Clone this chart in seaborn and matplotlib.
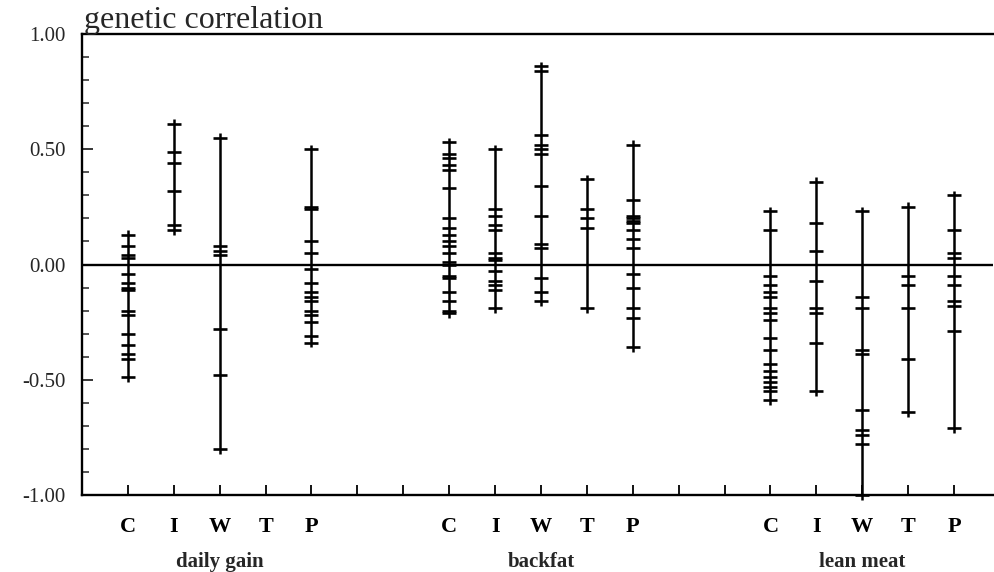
import numpy as np
import pandas as pd
import matplotlib
matplotlib.use("Agg")
import matplotlib.pyplot as plt
import matplotlib.transforms as mtransforms
import seaborn as sns

traits = ["daily gain", "backfat", "lean meat"]
methods = ["C", "I", "W", "T", "P"]

daily_gain_C = [0.13, 0.08, 0.04, 0.03, -0.04, -0.08, -0.10, -0.11, -0.20, -0.22,
                -0.30, -0.35, -0.39, -0.41, -0.49]
daily_gain_I = [0.61, 0.49, 0.44, 0.32, 0.17, 0.15]
daily_gain_W = [0.55, 0.08, 0.06, 0.04, -0.28, -0.48, -0.80]
daily_gain_T = []
daily_gain_P = [0.50, 0.25, 0.24, 0.10, 0.05, -0.02, -0.08, -0.12, -0.14, -0.16,
                -0.20, -0.22, -0.25, -0.31, -0.34]

backfat_C = [0.53, 0.48, 0.46, 0.43, 0.41, 0.33, 0.20, 0.16, 0.13, 0.10, 0.08,
             0.05, 0.01, 0.00, -0.05, -0.06, -0.12, -0.16, -0.20, -0.21]
backfat_I = [0.50, 0.24, 0.21, 0.17, 0.15, 0.05, 0.03, 0.02, -0.03, -0.07,
             -0.09, -0.11, -0.19]
backfat_W = [0.86, 0.84, 0.56, 0.52, 0.50, 0.48, 0.34, 0.21, 0.09, 0.07,
             -0.06, -0.12, -0.16]
backfat_T = [0.37, 0.24, 0.20, 0.16, -0.19]
backfat_P = [0.52, 0.28, 0.21, 0.20, 0.19, 0.18, 0.15, 0.11, 0.07, -0.04,
             -0.10, -0.19, -0.23, -0.36]

lean_meat_C = [0.23, 0.15, -0.05, -0.09, -0.12, -0.14, -0.19, -0.21, -0.24,
               -0.32, -0.37, -0.43, -0.46, -0.49, -0.51, -0.53, -0.55, -0.59]
lean_meat_I = [0.36, 0.18, 0.06, -0.07, -0.19, -0.21, -0.34, -0.55]
lean_meat_W = [0.23, -0.14, -0.19, -0.37, -0.39, -0.63, -0.72, -0.74, -0.78, -1.00]
lean_meat_T = [0.25, -0.05, -0.09, -0.19, -0.41, -0.64]
lean_meat_P = [0.30, 0.15, 0.05, 0.03, -0.05, -0.09, -0.16, -0.18, -0.29, -0.71]

series = {
    "daily gain": [daily_gain_C, daily_gain_I, daily_gain_W, daily_gain_T, daily_gain_P],
    "backfat": [backfat_C, backfat_I, backfat_W, backfat_T, backfat_P],
    "lean meat": [lean_meat_C, lean_meat_I, lean_meat_W, lean_meat_T, lean_meat_P],
}

y_ticks = [-1.0, -0.5, 0.0, 0.5, 1.0]
y_labels = ["-1.00", "-0.50", "0.00", "0.50", "1.00"]

# ---- build long table ----
rows = []
for t, trait in enumerate(traits):
    for m, meth in enumerate(methods):
        pos = 1 + 7 * t + m
        for v in series[trait][m]:
            rows.append({"trait": trait, "method": meth, "pos": pos, "value": v})
df = pd.DataFrame(rows)

sns.set_theme(style="white")
plt.rcParams["font.family"] = ["Liberation Serif", "DejaVu Serif"]

fig = plt.figure(figsize=(9.94, 5.72), dpi=100)
ax = fig.add_axes([82 / 994, 1 - 495 / 572, (993 - 82) / 994, (495 - 34) / 572])

# zero line
ax.axhline(0, color="black", lw=1.7, zorder=1)

# vertical ranges
rng = df.groupby("pos")["value"].agg(["min", "max"]).reset_index()
ext = 0.02
ax.vlines(rng["pos"], rng["min"] - ext, rng["max"] + ext, color="black",
          lw=1.8, zorder=2, clip_on=False)

# estimate marks
sns.scatterplot(data=df, x="pos", y="value", marker="_", s=100, color="black",
                linewidth=1.9, ax=ax, zorder=3, legend=False, clip_on=False)

ax.set_xlim(0, (993 - 82) / 45.9)
ax.set_ylim(-1, 1)

# x ticks
all_pos = list(range(1, 20))
lab_map = {}
for t in range(3):
    for m, meth in enumerate(methods):
        lab_map[1 + 7 * t + m] = meth
ax.set_xticks(all_pos)
ax.set_xticklabels([lab_map.get(p, "") for p in all_pos], fontsize=16,
                   fontweight="bold")
ax.tick_params(axis="x", direction="in", length=7, width=1.3, pad=16,
               bottom=True, colors="black")

# y ticks
ax.set_yticks(y_ticks)
ax.set_yticklabels(y_labels, fontsize=15)
ax.set_yticks(np.arange(-1.0, 1.01, 0.1), minor=True)
ax.tick_params(axis="y", which="major", direction="in", length=8, width=1.3,
               pad=12, left=True)
ax.tick_params(axis="y", which="minor", direction="in", length=5, width=1.1,
               left=True)

ax.set_xlabel("")
ax.set_ylabel("")

for side in ["left", "bottom", "top"]:
    ax.spines[side].set_visible(True)
    ax.spines[side].set_color("black")
    ax.spines[side].set_linewidth(1.7)
ax.spines["right"].set_visible(False)

# group labels
trans = mtransforms.blended_transform_factory(ax.transData, ax.transAxes)
for t, trait in enumerate(traits):
    ax.text(1 + 7 * t + 2, -0.145, trait, transform=trans, ha="center",
            va="center", fontsize=15, fontweight="bold")

# title
fig.text(84 / 994, 1 - 28 / 572, "genetic correlation", fontsize=23,
         fontweight="normal", ha="left", va="baseline")

fig.savefig("out.png", dpi=100, facecolor="white")
